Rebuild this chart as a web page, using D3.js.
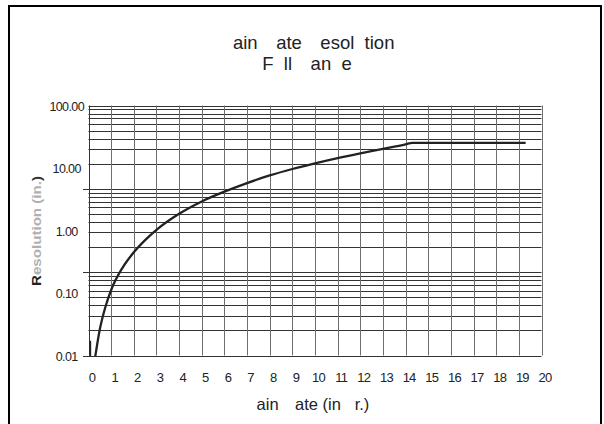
<!DOCTYPE html>
<html><head><meta charset="utf-8">
<script src="https://cdn.jsdelivr.net/npm/d3@7"></script>
<style>
body{margin:0;background:#fff}
svg{display:block}
text{font-family:"Liberation Sans",Arial,Helvetica,sans-serif}
</style>
</head><body>
<svg id="chart" width="604" height="424"></svg>
<script>
// ---- data ----
const rainRate   = [0.3, 0.5, 0.75, 1, 1.5, 2, 2.5, 3, 4, 5, 6, 7, 8, 9, 10, 11, 12, 13, 14, 14.3, 19.3];
const resolution = [0.01, 0.027, 0.062, 0.115, 0.26, 0.46, 0.72, 1.05, 1.9, 3.0, 4.3, 5.9, 7.8, 9.9, 12.2, 14.8, 17.6, 20.7, 24.5, 26, 26];
const startMarkRate = [0.075, 0.075];
const startMarkRes  = [0.01, 0.0177];
const xTickValues = d3.range(0, 21);
const yTickValues = [0.01, 0.1, 1, 10, 100];
const yTickLabels = ["0.01", "0.10", "1.00", "10.00", "100.00"];
const gridDecades = [0.1, 1, 10];
const gridSteps = [1, 2, 3, 4, 5, 6, 7, 8, 9];
// title pieces: [text, visible]
const titleLine1 = [["R",0],["ain ",1],["R",0],["ate ",1],["R",0],["esol",1],["u",0],["tion",1]];
const titleLine2 = [["F",1],["u",0],["ll ",1],["R",0],["an",1],["g",0],["e",1]];
const xLabel = [["R",0],["ain ",1],["R",0],["ate (in",1],["/h",0],["r.)",1]];
const yLabel = [["R","#222"],["esolution (in.","#b0b0b0"],[")","#333"]];

// ---- layout ----
const svg = d3.select("#chart");
const x = d3.scaleLinear().domain([0, 20]).range([88.5, 541.5]);
const yVal = d3.scaleLog().domain([0.01, 100]).range([356.3, 106.2]);
const yGrid = d3.scaleLog().domain([0.1, 100]).range([355.5, 105.5]);

// outer frame
svg.append("rect").attr("x", 9).attr("y", 6).attr("width", 592).attr("height", 440)
  .attr("fill", "none").attr("stroke", "#000").attr("stroke-width", 2);

// title
function addPieces(sel, pieces){
  pieces.forEach(p => sel.append("tspan").text(p[0]).attr("fill-opacity", p[1] ? 1 : 0));
}
const t1 = svg.append("text").attr("x", 307).attr("y", 48.5).attr("text-anchor","middle")
  .attr("font-size", 18.5).attr("fill", "#222");
addPieces(t1, titleLine1);
const t2 = svg.append("text").attr("x", 307).attr("y", 69.5).attr("text-anchor","middle")
  .attr("font-size", 18.5).attr("fill", "#222");
addPieces(t2, titleLine2);

// horizontal grid
const hLines = [];
gridDecades.forEach(d => gridSteps.forEach(s => hLines.push(d * s)));
hLines.push(100);
svg.append("g").selectAll("line").data(hLines).join("line")
  .attr("x1", d => [0.1,1,10].includes(d) ? 83 : x(0))
  .attr("x2", x(20))
  .attr("y1", d => Math.round(yGrid(d)) + 0.5)
  .attr("y2", d => Math.round(yGrid(d)) + 0.5)
  .attr("stroke", "#333").attr("stroke-width", 1);

// vertical grid
svg.append("g").selectAll("line").data(xTickValues).join("line")
  .attr("x1", d => Math.round(x(d)) + 0.5).attr("x2", d => Math.round(x(d)) + 0.5)
  .attr("y1", yGrid(100)).attr("y2", yGrid(0.1))
  .attr("stroke", d => d === 0 ? "#333" : "#6e6e6e").attr("stroke-width", 1);

// x tick labels
svg.append("g").selectAll("text").data(xTickValues).join("text")
  .attr("x", d => x(d) + 3.5).attr("y", 381.5)
  .attr("text-anchor", "middle").attr("font-size", 13).attr("letter-spacing", -0.8)
  .attr("fill", "#222").text(d => d);

// y tick labels
svg.append("g").selectAll("text").data(yTickValues).join("text")
  .attr("x", 66.7).attr("y", d => yVal(d) + 4.5)
  .attr("text-anchor", "middle").attr("font-size", 12.5).attr("letter-spacing", -0.6)
  .attr("fill", "#222").text((d, i) => yTickLabels[i]);

// axis labels
const xl = svg.append("text").attr("x", 307).attr("y", 410).attr("text-anchor","middle")
  .attr("font-size", 16.5).attr("fill", "#222");
addPieces(xl, xLabel);
const yl = svg.append("text").attr("transform", "translate(41,231) rotate(-90)")
  .attr("text-anchor","middle").attr("font-size", 12).attr("font-weight","bold")
  .attr("textLength", 110).attr("lengthAdjust","spacingAndGlyphs");
yLabel.forEach(p => yl.append("tspan").text(p[0]).attr("fill", p[1]));

// curve
const line = d3.line().x(d => x(d[0])).y(d => yVal(d[1])).curve(d3.curveMonotoneX);
svg.append("path").datum(rainRate.map((r, i) => [r, resolution[i]]))
  .attr("d", line).attr("fill", "none").attr("stroke", "#222").attr("stroke-width", 2.3);
svg.append("path").datum(startMarkRate.map((r, i) => [r, startMarkRes[i]]))
  .attr("d", d3.line().x(d => x(d[0])).y(d => yVal(d[1])))
  .attr("fill", "none").attr("stroke", "#222").attr("stroke-width", 2);
</script>
</body></html>
